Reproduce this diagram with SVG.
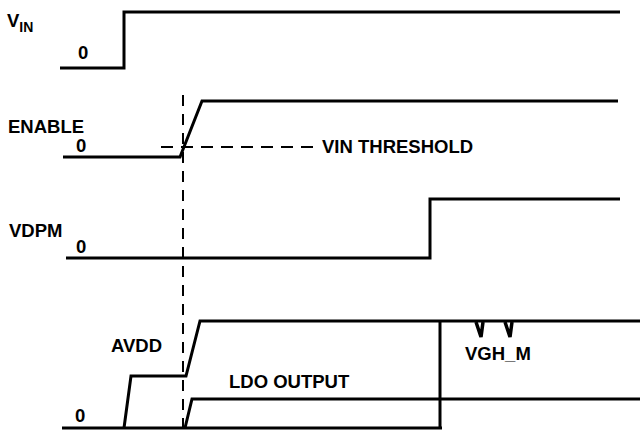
<svg xmlns="http://www.w3.org/2000/svg" width="641" height="433" viewBox="0 0 641 433">
<style>
.sig{fill:none;stroke:#000;stroke-width:3;stroke-linejoin:miter}
.dash{fill:none;stroke:#000;stroke-width:2;stroke-dasharray:11 8}
text{font-family:"Liberation Sans",Arial,sans-serif;font-weight:bold;font-size:18.5px;fill:#000}
.sub{font-size:14px}
</style>
<rect width="641" height="433" fill="#fff"/>
<g id="connectors">
<line class="dash" x1="183" y1="95" x2="183" y2="433"/>
<line class="dash" x1="161" y1="147" x2="318" y2="147" style="stroke-dasharray:12 8"/>
</g>
<g id="vin">
<polyline class="sig" points="60,68 124,68 124,12 620,12"/>
<text x="7" y="27">V<tspan class="sub" dy="5">IN</tspan></text>
<text x="78" y="59">0</text>
</g>
<g id="enable">
<polyline class="sig" points="63,157 180,157 202,101 618,101"/>
<text x="8" y="133">ENABLE</text>
<text x="76" y="152">0</text>
<text x="322" y="153">VIN THRESHOLD</text>
</g>
<g id="vdpm">
<polyline class="sig" points="66,258 430,258 430,199 620,199"/>
<text x="9" y="237">VDPM</text>
<text x="76" y="253">0</text>
</g>
<g id="avdd">
<line class="sig" x1="62" y1="428" x2="442" y2="428"/>
<polyline class="sig" points="124,428 131,376 186,376 200,321 640,321"/>
<line class="sig" x1="440" y1="321" x2="440" y2="428"/>
<text x="111" y="352">AVDD</text>
<text x="75" y="422">0</text>
</g>
<g id="ldo">
<polyline class="sig" points="185,428 192,399 640,399"/>
<text x="229" y="388">LDO OUTPUT</text>
</g>
<g id="vghm">
<polyline class="sig" points="476,322 481,337 483,322" style="stroke-width:3.5"/>
<polyline class="sig" points="505,322 510,337 512,322" style="stroke-width:3.5"/>
<text x="465" y="360">VGH_M</text>
</g>
</svg>
